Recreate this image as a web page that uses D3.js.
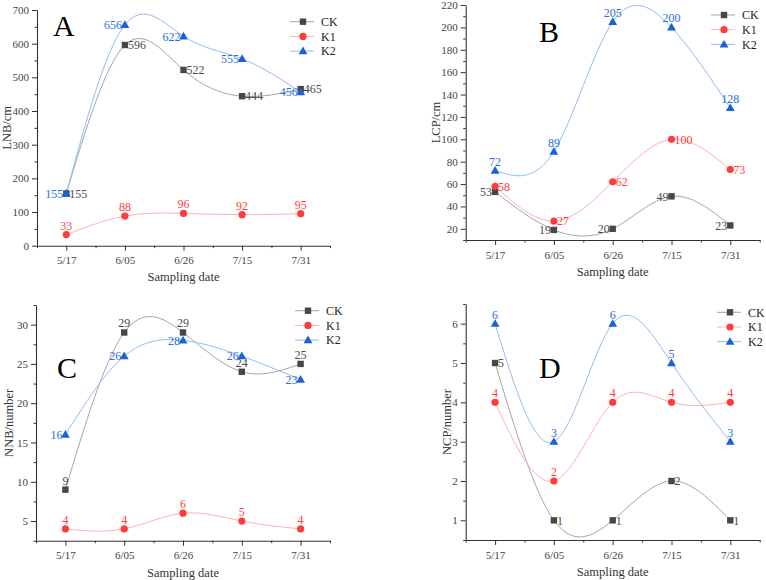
<!DOCTYPE html>
<html>
<head>
<meta charset="utf-8">
<script src="https://cdn.jsdelivr.net/npm/d3@7"></script>
<style>
  body { margin: 0; background: #fff; }
  svg text { font-family: "Liberation Serif", "Times New Roman", serif !important; }
</style>
</head>
<body>
<script>
// data
var dates = ['5/17', '6/05', '6/26', '7/15', '7/31']
var series = ['CK', 'K1', 'K2']

var lnbCK = [155, 596, 522, 444, 465]
var lnbK1 = [33, 88, 96, 92, 95]
var lnbK2 = [155, 656, 622, 555, 456]

var lcpCK = [53, 19, 20, 49, 23]
var lcpK1 = [58, 27, 62, 100, 73]
var lcpK2 = [72, 89, 205, 200, 128]

var nnbCK = [9, 29, 29, 24, 25]
var nnbK1 = [4, 4, 6, 5, 4]
var nnbK2 = [16, 26, 28, 26, 23]

var ncpCK = [5, 1, 1, 2, 1]
var ncpK1 = [4, 2, 4, 4, 4]
var ncpK2 = [6, 3, 6, 5, 3]

var lnbTicks = [0, 100, 200, 300, 400, 500, 600, 700]
var lcpTicks = [20, 40, 60, 80, 100, 120, 140, 160, 180, 200, 220]
var nnbTicks = [5, 10, 15, 20, 25, 30]
var ncpTicks = [1, 2, 3, 4, 5, 6]

// styles
var markerCol = { CK: '#474747', K1: '#ff3c3c', K2: '#1a62d8' }
var lineCol = { CK: '#a6a6a6', K1: '#ffb0b0', K2: '#8fbdf2' }
var textCol = { CK: '#4a4a4a', K1: '#ff3c3c', K2: '#2a6fe0' }
var serif = '"Liberation Serif", "Times New Roman", serif'

var w = 766
var h = 580

var svg = d3.select('body')
  .append('svg')
  .attr('width', w)
  .attr('height', h)
  .style('font-family', serif)

svg.append('rect').attr('width', w).attr('height', h).attr('fill', '#fff')

var panels = [
  {
    letter: 'A', ylab: 'LNB/cm', vals: [lnbCK, lnbK1, lnbK2], ticks: lnbTicks, minorStep: 50,
    dom: [0, 700], x0: 37, x1: 330, yb: 245.7, yt: 10,
    pos: { CK: 'r', K1: 't', K2: 'l' },
    letterX: 53, letterY: 36, ylabX: 7, xlabY: 280.5, legX: 290, legY: 21.7
  },
  {
    letter: 'B', ylab: 'LCP/cm', vals: [lcpCK, lcpK1, lcpK2], ticks: lcpTicks, minorStep: 10,
    dom: [10, 220], x0: 465.7, x1: 759.7, yb: 240, yt: 5,
    pos: { CK: 'l', K1: 'r', K2: 't' },
    letterX: 539, letterY: 41.5, ylabX: 435.5, xlabY: 276, legX: 711, legY: 15
  },
  {
    letter: 'C', ylab: 'NNB/number', vals: [nnbCK, nnbK1, nnbK2], ticks: nnbTicks, minorStep: 2.5,
    dom: [2.5, 32.5], x0: 36, x1: 330, yb: 540.7, yt: 305,
    pos: { CK: 't', K1: 't', K2: 'l' },
    letterX: 57, letterY: 378, ylabX: 9, xlabY: 577, legX: 295, legY: 310.7
  },
  {
    letter: 'D', ylab: 'NCP/number', vals: [ncpCK, ncpK1, ncpK2], ticks: ncpTicks, minorStep: 0.5,
    dom: [0.5, 6.5], x0: 465.7, x1: 759.7, yb: 540, yt: 304,
    pos: { CK: 'r', K1: 't', K2: 't' },
    letterX: 539, letterY: 377.5, ylabX: 447, xlabY: 576, legX: 717, legY: 312.3
  }
]

function drawMarker (g, s, x, y) {
  if (s === 'CK') {
    g.append('rect').attr('x', x - 3.2).attr('y', y - 3.2).attr('width', 6.4).attr('height', 6.4)
      .attr('fill', markerCol[s])
  } else if (s === 'K1') {
    g.append('circle').attr('cx', x).attr('cy', y).attr('r', 3.6).attr('fill', markerCol[s])
  } else {
    g.append('path').attr('d', d3.symbol().type(d3.symbolTriangle).size(34)())
      .attr('transform', 'translate(' + x + ',' + (y + 0.6) + ')')
      .attr('fill', markerCol[s])
  }
}

panels.forEach(function (p) {
  var g = svg.append('g')

  var xScale = d3.scaleLinear().domain([-0.5, 4.5]).range([p.x0, p.x1])
  var yScale = d3.scaleLinear().domain(p.dom).range([p.yb, p.yt])

  // minor ticks
  var minors = d3.range(p.dom[0], p.dom[1] + 1e-9, p.minorStep)
    .filter(function (v) { return p.ticks.indexOf(v) < 0 })

  g.append('g')
    .attr('transform', 'translate(' + p.x0 + ',0)')
    .call(d3.axisLeft(yScale).tickValues(minors).tickSize(2.5).tickFormat(''))
    .call(function (a) { a.select('.domain').remove() })

  g.append('g')
    .attr('transform', 'translate(' + p.x0 + ',0)')
    .call(d3.axisLeft(yScale).tickValues(p.ticks).tickSize(5).tickSizeOuter(0).tickPadding(3)
      .tickFormat(d3.format('d')))

  g.append('g')
    .attr('transform', 'translate(0,' + p.yb + ')')
    .call(d3.axisBottom(xScale).tickValues([-0.5, 0.5, 1.5, 2.5, 3.5, 4.5]).tickSize(2.5).tickFormat(''))
    .call(function (a) { a.select('.domain').remove() })

  g.append('g')
    .attr('transform', 'translate(0,' + p.yb + ')')
    .call(d3.axisBottom(xScale).tickValues([0, 1, 2, 3, 4]).tickSize(5).tickSizeOuter(0).tickPadding(6)
      .tickFormat(function (d) { return dates[d] }))

  g.selectAll('g').attr('font-family', null)
  g.selectAll('.domain').attr('stroke', '#333').attr('stroke-width', 1.1)
  g.selectAll('.tick line').attr('stroke', '#333')
  g.selectAll('.tick text')
    .style('font-family', serif)
    .attr('font-size', '11px')
    .attr('fill', '#444')

  // axis titles
  g.append('text')
    .attr('x', (p.x0 + p.x1) / 2)
    .attr('y', p.xlabY)
    .attr('text-anchor', 'middle')
    .attr('font-size', '12.5px')
    .attr('fill', '#333')
    .text('Sampling date')

  g.append('text')
    .attr('transform', 'translate(' + p.ylabX + ',' + ((p.yb + p.yt) / 2) + ') rotate(-90)')
    .attr('text-anchor', 'middle')
    .attr('dy', '0.35em')
    .attr('font-size', '12.5px')
    .attr('fill', '#333')
    .text(p.ylab)

  // panel letter
  g.append('text')
    .attr('x', p.letterX)
    .attr('y', p.letterY)
    .attr('font-size', '30px')
    .attr('fill', '#000')
    .text(p.letter)

  var line = d3.line()
    .x(function (d, i) { return xScale(i) })
    .y(function (d) { return yScale(d) })
    .curve(d3.curveNatural)

  // lines
  series.forEach(function (s, k) {
    g.append('path')
      .datum(p.vals[k])
      .attr('d', line)
      .attr('fill', 'none')
      .attr('stroke', lineCol[s])
      .attr('stroke-width', 1)
  })

  // markers and labels
  series.forEach(function (s, k) {
    p.vals[k].forEach(function (v, i) {
      var x = xScale(i)
      var y = yScale(v)
      drawMarker(g, s, x, y)
      var t = g.append('text')
        .attr('font-size', '12px')
        .attr('fill', textCol[s])
        .text(v)
      if (p.pos[s] === 'r') {
        t.attr('x', x + 3).attr('y', y + 4.3).attr('text-anchor', 'start')
      } else if (p.pos[s] === 'l') {
        t.attr('x', x - 3).attr('y', y + 4.3).attr('text-anchor', 'end')
      } else {
        t.attr('x', x).attr('y', y - 5).attr('text-anchor', 'middle')
      }
    })
  })

  // legend
  series.forEach(function (s, k) {
    var ly = p.legY + k * 14.7
    var lg = g.append('g')
    lg.append('line')
      .attr('x1', p.legX).attr('x2', p.legX + 24)
      .attr('y1', ly).attr('y2', ly)
      .attr('stroke', lineCol[s])
    drawMarker(lg, s, p.legX + 13, ly)
    lg.append('text')
      .attr('x', p.legX + 31)
      .attr('y', ly + 4.3)
      .attr('font-size', '12px')
      .attr('fill', '#222')
      .text(s)
  })
})
</script>
</body>
</html>
